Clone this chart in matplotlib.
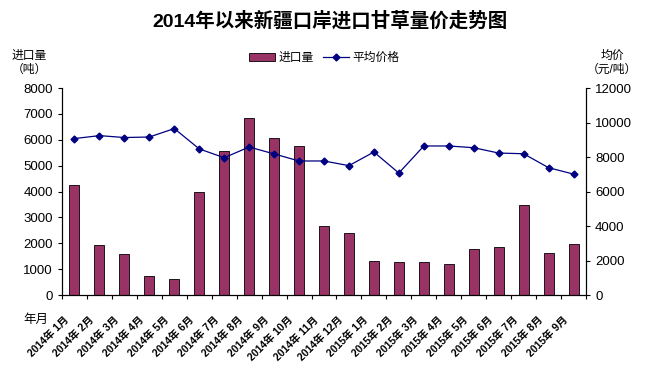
import matplotlib.pyplot as plt
import matplotlib.transforms as mtransforms
import numpy as np

plt.rcParams['font.family'] = ['Liberation Sans', 'Noto Sans CJK SC', 'DejaVu Sans']

months = ["2014年 1月", "2014年 2月", "2014年 3月", "2014年 4月", "2014年 5月",
          "2014年 6月", "2014年 7月", "2014年 8月", "2014年 9月", "2014年 10月",
          "2014年 11月", "2014年 12月", "2015年 1月", "2015年 2月", "2015年 3月",
          "2015年 4月", "2015年 5月", "2015年 6月", "2015年 7月", "2015年 8月",
          "2015年 9月"]
volume = [4240, 1920, 1585, 720, 600, 3970, 5570, 6840, 6070, 5760,
          2670, 2380, 1300, 1265, 1265, 1200, 1765, 1840, 3465, 1610, 1960]
price = [9070, 9240, 9130, 9160, 9650, 8470, 7960, 8580, 8180, 7770,
         7770, 7500, 8290, 7070, 8640, 8640, 8540, 8230, 8190, 7380, 7010]

bar_color = "#993366"
line_color = "#000080"

fig = plt.figure(figsize=(6.48, 3.70), dpi=100)
ax = fig.add_axes([0.0957, 0.2027, 0.8086, 0.5594])
x = np.arange(len(months))

bars = ax.bar(x, volume, width=0.4, color=bar_color, edgecolor="black", linewidth=0.6, label="进口量")
ax.set_xlim(-0.5, len(months) - 0.5)
ax.set_ylim(0, 8000)
ax.set_yticks(range(0, 8001, 1000))
ax.tick_params(axis="y", labelsize=9.5, direction="out", length=3, width=0.8)
ax.set_xticks(np.arange(-0.5, len(months), 1.0), minor=False)
ax.set_xticklabels([])
ax.tick_params(axis="x", direction="out", length=3, width=0.8)
ax.set_xticks(x, minor=True)
ax.set_xticklabels(months, minor=True, rotation=45, ha="right", va="top",
                   rotation_mode="anchor", fontsize=7.5, fontweight="bold")
ax.tick_params(axis="x", which="minor", length=0, pad=14)
shift = mtransforms.ScaledTranslation(-8 / 72, 0, fig.dpi_scale_trans)
for lab in ax.get_xticklabels(minor=True):
    lab.set_transform(lab.get_transform() + shift)
ax.spines["top"].set_visible(False)

ax2 = ax.twinx()
ln, = ax2.plot(x, price, color=line_color, linewidth=0.9, marker="D", markersize=3.5,
               label="平均价格")
ax2.set_ylim(0, 12000)
ax2.set_yticks(range(0, 12001, 2000))
ax2.tick_params(axis="y", labelsize=9.5, direction="out", length=3, width=0.8)
ax2.spines["top"].set_visible(False)

fig.text(0.51, 0.945, "2014年以来新疆口岸进口甘草量价走势图", ha="center", va="center",
         fontsize=14, fontweight="bold")
fig.text(0.045, 0.83, "进口量\n（吨）", ha="center", va="center", fontsize=8.5, linespacing=1.2)
fig.text(0.945, 0.83, "均价\n（元/吨）", ha="center", va="center", fontsize=8.5, linespacing=1.2)
fig.text(0.056, 0.135, "年月", ha="center", va="center", fontsize=9)

fig.legend(handles=[bars, ln], loc="center", bbox_to_anchor=(0.5, 0.843), ncol=2,
           frameon=False, fontsize=8.5, handlelength=2.2, handletextpad=0.3,
           columnspacing=0.8)

fig.savefig("out.png", dpi=100)
